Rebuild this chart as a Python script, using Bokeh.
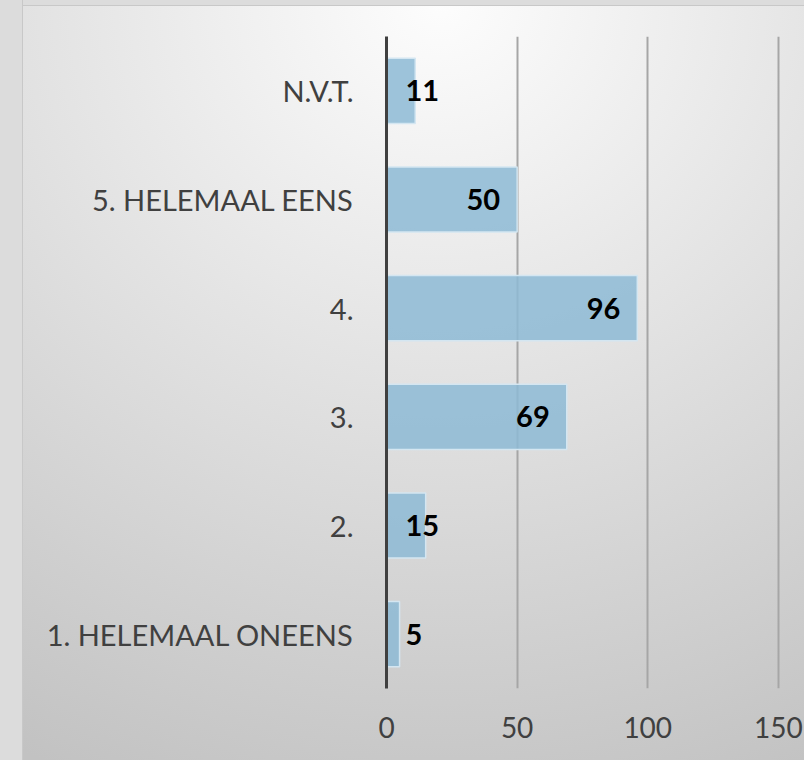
from bokeh.plotting import figure
from bokeh.models import ColumnDataSource, FactorRange, Range1d, FixedTicker
from bokeh.core.properties import value
from bokeh.embed import file_html
from bokeh.resources import INLINE

# ---- data ----
categories = ["1. HELEMAAL ONEENS", "2.", "3.", "4.", "5. HELEMAAL EENS", "N.V.T."]
counts = [5, 15, 69, 96, 50, 11]
x_ticks = [0, 50, 100, 150]

FONT = "Lato"

# label placement: inside end for long bars, pushed right of the axis for short ones
label_x = [0 if v < 20 else v for v in counts]
label_align = ["left" if v < 20 else "right" for v in counts]
label_off = [19 if v < 20 else -17 for v in counts]

src = ColumnDataSource(dict(cat=categories, val=counts, lx=label_x,
                            la=label_align, lo=label_off,
                            txt=[str(v) for v in counts]))

p = figure(width=804, height=760,
           y_range=FactorRange(factors=categories, range_padding=0),
           x_range=Range1d(0, 160),
           output_backend="svg", toolbar_location=None,
           min_border_left=386, min_border_right=0,
           min_border_top=36, min_border_bottom=72,
           background_fill_alpha=0, border_fill_alpha=0,
           outline_line_color=None)

p.styles = {
    "background": (
        "linear-gradient(to right, #dcdcdc 0px, #dcdcdc 22px, #c8c8c8 22px, #c8c8c8 23px, transparent 23px),"
        "linear-gradient(to bottom, #dcdcdc 0px, #dcdcdc 5px, #c8c8c8 5px, #c8c8c8 6px, transparent 6px),"
        "radial-gradient(ellipse 910px 845px at 440px 0px, #fdfdfd 0%, #c2c2c2 100%)"
    ),
}

p.hbar(y="cat", right="val", left=0, height=0.6, source=src,
       fill_color="#8dbad5", fill_alpha=0.85,
       line_color="#d4e6f1", line_width=1.5)

p.text(x="lx", y="cat", text="txt", source=src,
       text_align="la", x_offset="lo", text_baseline="middle",
       text_font=value(FONT), text_font_style="bold",
       text_font_size="29px", text_color="black")

# grid
p.ygrid.visible = False
p.xgrid.ticker = FixedTicker(ticks=x_ticks)
p.xgrid.grid_line_color = "#a6a6a6"
p.xgrid.grid_line_width = 2

# y axis
p.yaxis.axis_line_color = "#404040"
p.yaxis.axis_line_width = 3
p.yaxis.major_tick_line_color = None
p.yaxis.minor_tick_line_color = None
p.yaxis.major_label_text_font = FONT
p.yaxis.major_label_text_font_size = "29px"
p.yaxis.major_label_text_color = "#404040"
p.yaxis.major_label_standoff = 27

# x axis
p.xaxis.ticker = FixedTicker(ticks=x_ticks)
p.xaxis.axis_line_color = None
p.xaxis.major_tick_line_color = None
p.xaxis.minor_tick_line_color = None
p.xaxis.major_label_text_font = FONT
p.xaxis.major_label_text_font_size = "28px"
p.xaxis.major_label_text_color = "#404040"
p.xaxis.major_label_standoff = 22

open("out.html", "w").write(file_html(p, INLINE))
